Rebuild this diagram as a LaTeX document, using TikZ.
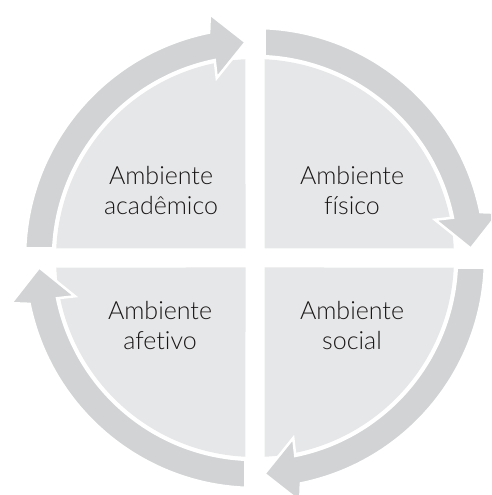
\documentclass[tikz,border=0pt]{standalone}
\usepackage{fontspec}
\IfFontExistsTF{Lato Light}{\setmainfont[Ligatures=NoCommon]{Lato Light}}{\setmainfont[Ligatures=NoCommon]{Lato}}
\definecolor{arrowgray}{HTML}{D1D3D4}
\definecolor{sectorgray}{HTML}{E6E7E8}
\definecolor{txtcol}{HTML}{1A1718}
\begin{document}
\begin{tikzpicture}[x=1pt,y=1pt,
  sector/.style={fill=sectorgray},
  ringarrow/.style={fill=arrowgray, draw=white, line width=2.5pt, line join=miter},
  lbl/.style={font=\fontsize{25}{30}\selectfont, text=txtcol, align=center, inner sep=0pt, anchor=base}]
\useasboundingbox (0,0) rectangle (491,495);
\clip (0,0) rectangle (491,495);
\coordinate (C) at (255,237);
\foreach \k in {0,1,2,3} {
  \begin{scope}[shift={(C)}, rotate=-90*\k]
    \fill[sector] (-9.5,9.5) -- (92.74:199) arc[start angle=92.74, end angle=177.26, radius=199] -- cycle;
  \end{scope}
}
\foreach \k in {0,1,2,3} {
  \begin{scope}[shift={(C)}, rotate=-90*\k]
    \filldraw[ringarrow] (177.3:202) -- (177.63:230)
      arc[start angle=177.63, end angle=101.5, radius=230]
      -- (100.5:248) -- (92.5:216) -- (102:184) -- (101.5:202)
      arc[start angle=101.5, end angle=177.3, radius=202] -- cycle;
  \end{scope}
}
\node[lbl] (acad) at (161,280) {Ambiente\\acadêmico};
\node[lbl] (fis) at (352,280) {Ambiente\\físico};
\node[lbl] (afet) at (160,145) {Ambiente\\afetivo};
\node[lbl] (soc) at (352,145) {Ambiente\\social};
\end{tikzpicture}
\end{document}
